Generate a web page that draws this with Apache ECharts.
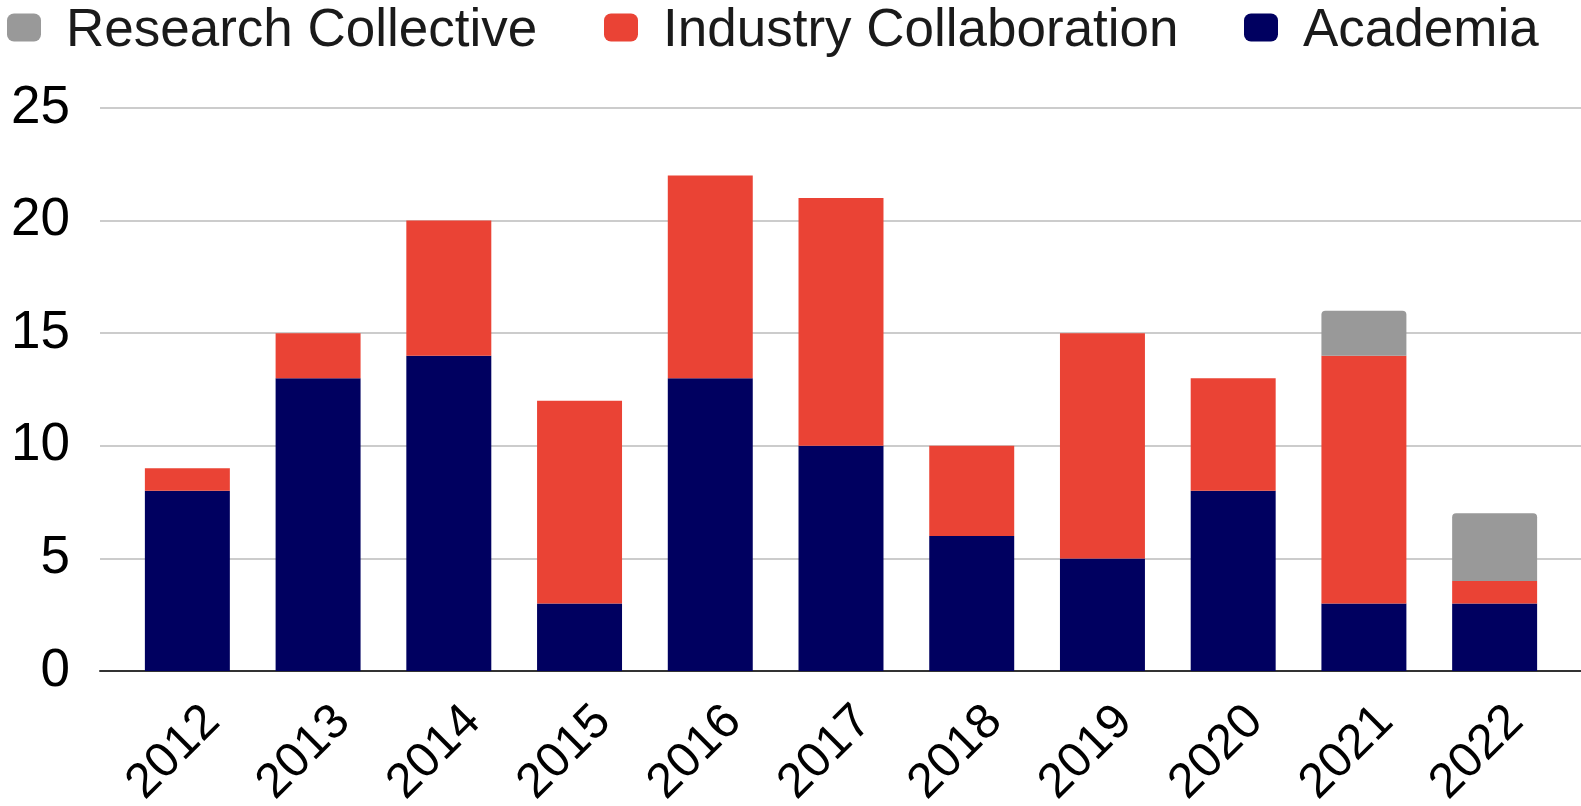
<!DOCTYPE html>
<html>
<head>
<meta charset="utf-8">
<script src="https://cdn.jsdelivr.net/npm/echarts@6/dist/echarts.min.js"></script>
<style>
html,body{margin:0;padding:0;background:#fff;}
#chart{width:1581px;height:806px;}
</style>
</head>
<body>
<div id="chart"></div>
<script>
const years = ['2012','2013','2014','2015','2016','2017','2018','2019','2020','2021','2022'];
const academia = [8,13,14,3,13,10,6,5,8,3,3];
const industry = [1,2,6,9,9,11,4,10,5,11,1];
const research = [0,0,0,0,0,0,0,0,0,2,3];
const seriesNames = ['Research Collective','Industry Collaboration','Academia'];
const yMin = 0, yMax = 25, yStep = 5;

const FONT = '"Liberation Sans", Arial, sans-serif';
const colors = {academia:'#000060', industry:'#ea4335', research:'#999999'};

function legendAt(left, name){
  return {
    left: left, top: -3, padding: 0, selectedMode: false,
    data: [name], icon: 'roundRect', itemWidth: 34, itemHeight: 28,
    formatter: function(n){ return '{t|' + n + '}'; },
    textStyle: {
      color: '#1a1a1a', fontFamily: FONT, fontSize: 53,
      rich: { t: { fontSize: 53, fontFamily: FONT, color: '#1a1a1a', lineHeight: 20, padding: [8,0,0,20] } }
    }
  };
}

const chart = echarts.init(document.getElementById('chart'), null, {renderer:'canvas'});
const hiddenY = (g) => ({gridIndex:g, type:'value', min:yMin, max:yMax, interval:yStep, show:false, splitLine:{show:false}});
chart.setOption({
  animation: false,
  backgroundColor: '#ffffff',
  legend: [
    legendAt(7, seriesNames[0]),
    legendAt(604, seriesNames[1]),
    legendAt(1244, seriesNames[2])
  ],
  grid: [
    {left:100, right:0, top:108, bottom:135, outerBoundsMode:'none'},
    {left:122, right:21, top:108, bottom:135, outerBoundsMode:'none'},
    {left:147, right:0, top:108, bottom:135, outerBoundsMode:'none'}
  ],
  xAxis: [
    {gridIndex:0, type:'category', data:years,
     axisLine:{show:true, lineStyle:{color:'#333333', width:2}},
     axisTick:{show:false}, axisLabel:{show:false}, splitLine:{show:false}},
    {gridIndex:1, type:'category', data:years,
     axisLine:{show:false}, axisTick:{show:false}, axisLabel:{show:false}},
    {gridIndex:2, type:'category', data:years,
     axisLine:{show:false}, axisTick:{show:false},
     axisLabel:{show:true, rotate:45, margin:43, fontSize:49, fontFamily:FONT, color:'#000000', interval:0, hideOverlap:false}}
  ],
  yAxis: [
    {gridIndex:0, type:'value', min:yMin, max:yMax, interval:yStep,
     axisLine:{show:false}, axisTick:{show:false},
     axisLabel:{fontSize:53, fontFamily:FONT, color:'#000000', margin:30},
     splitLine:{show:true, lineStyle:{color:'#cccccc', width:2}}},
    hiddenY(1),
    hiddenY(2)
  ],
  series: [
    {name:seriesNames[2], type:'bar', stack:'total', xAxisIndex:1, yAxisIndex:1, barWidth:'65%',
     data:academia, itemStyle:{color:colors.academia}},
    {name:seriesNames[1], type:'bar', stack:'total', xAxisIndex:1, yAxisIndex:1, barWidth:'65%',
     data:industry, itemStyle:{color:colors.industry}},
    {name:seriesNames[0], type:'bar', stack:'total', xAxisIndex:1, yAxisIndex:1, barWidth:'65%',
     data:research, itemStyle:{color:colors.research, borderRadius:[4,4,0,0]}}
  ]
});
</script>
</body>
</html>
